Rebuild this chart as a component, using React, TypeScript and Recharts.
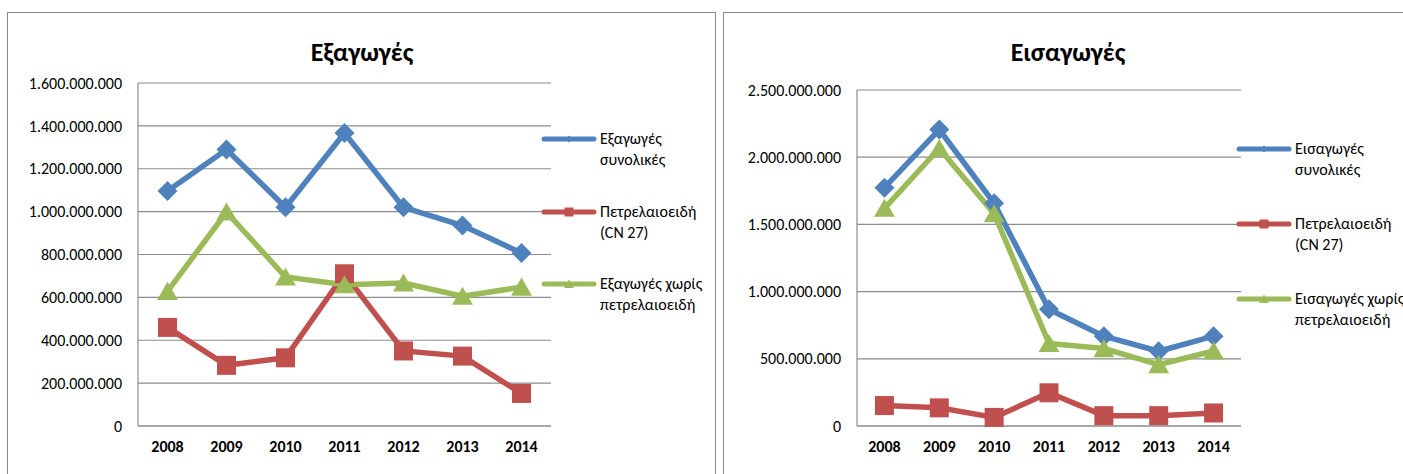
import { LineChart, Line, XAxis, YAxis, CartesianGrid } from 'recharts';

const years = ['2008', '2009', '2010', '2011', '2012', '2013', '2014'];

// Εξαγωγές
const exportsTotal = [1096000000, 1290000000, 1020000000, 1367000000, 1020000000, 935000000, 807000000];
const exportsOil = [460000000, 283000000, 318000000, 710000000, 350000000, 326000000, 152000000];
const exportsNonOil = [628000000, 998000000, 695000000, 659000000, 667000000, 605000000, 648000000];
const exportTicks = [0, 200000000, 400000000, 600000000, 800000000, 1000000000, 1200000000, 1400000000, 1600000000];
const exportLabels = [['Εξαγωγές', 'συνολικές'], ['Πετρελαιοειδή', '(CN 27)'], ['Εξαγωγές χωρίς', 'πετρελαιοειδή']];

// Εισαγωγές
const importsTotal = [1773000000, 2206000000, 1657000000, 868000000, 668000000, 556000000, 668000000];
const importsOil = [152000000, 135000000, 64000000, 247000000, 77000000, 77000000, 97000000];
const importsNonOil = [1620000000, 2065000000, 1580000000, 614000000, 576000000, 457000000, 558000000];
const importTicks = [0, 500000000, 1000000000, 1500000000, 2000000000, 2500000000];
const importLabels = [['Εισαγωγές', 'συνολικές'], ['Πετρελαιοειδή', '(CN 27)'], ['Εισαγωγές χωρίς', 'πετρελαιοειδή']];

const BLUE = '#4F81BD';
const RED = '#C0504D';
const GREEN = '#9BBB59';
const GRID = '#8c8c8c';
const FONT = "Calibri, Carlito, 'Open Sans', sans-serif";

type Shape = 'diamond' | 'square' | 'triangle';
const shapes: Shape[] = ['diamond', 'square', 'triangle'];
const colors = [BLUE, RED, GREEN];

function fmtDots(v: number): string {
  return String(Math.round(v)).replace(/\B(?=(\d{3})+(?!\d))/g, '.');
}

function Marker({ shape, cx, cy, size, color }: { shape: Shape; cx: number; cy: number; size: number; color: string }) {
  const h = size / 2;
  if (shape === 'diamond') {
    return <polygon points={`${cx},${cy - h} ${cx + h},${cy} ${cx},${cy + h} ${cx - h},${cy}`} fill={color} />;
  }
  if (shape === 'square') {
    return <rect x={cx - h} y={cy - h} width={size} height={size} fill={color} />;
  }
  return <polygon points={`${cx},${cy - h} ${cx + h * 1.1},${cy + h * 0.9} ${cx - h * 1.1},${cy + h * 0.9}`} fill={color} />;
}

function dotFor(shape: Shape, color: string, size: number) {
  return (props: any) => {
    const { cx, cy, index } = props;
    if (cx == null || cy == null) return <g key={`${shape}-${index}`} />;
    return <Marker key={`${shape}-${index}`} shape={shape} cx={cx} cy={cy} size={size} color={color} />;
  };
}

interface PanelProps {
  title: string;
  total: number[];
  oil: number[];
  nonOil: number[];
  ticks: number[];
  labels: string[][];
  frameLeft: number;
  frameWidth: number;
  plotLeft: number;
  plotRight: number;
  plotTop: number;
  titleX: number;
  legendX: number;
  legendYs: number[];
}

function Panel(p: PanelProps) {
  const data = years.map((year, i) => ({ year, total: p.total[i], oil: p.oil[i], nonOil: p.nonOil[i] }));
  const chartLeft = p.frameLeft;
  const chartWidth = 1403 - chartLeft;
  const yAxisWidth = 120;
  const xAxisHeight = 30;
  const band = (p.plotRight - p.plotLeft) / years.length;
  return (
    <>
      <div
        style={{
          position: 'absolute', left: p.frameLeft, top: 12, width: p.frameWidth, height: 480,
          border: '1.5px solid #8a8a8a', boxSizing: 'border-box',
        }}
      />
      <div
        style={{
          position: 'absolute', left: p.titleX - 150, top: 34, width: 300, textAlign: 'center',
          fontFamily: FONT, fontWeight: 700, fontSize: 26, lineHeight: '36px', color: '#000',
        }}
      >
        {p.title}
      </div>
      <div style={{ position: 'absolute', left: chartLeft, top: 0 }}>
        <LineChart
          width={chartWidth}
          height={474}
          data={data}
          margin={{
            top: p.plotTop,
            left: p.plotLeft - chartLeft - yAxisWidth,
            right: 1403 - p.plotRight,
            bottom: 474 - 426 - xAxisHeight,
          }}
        >
          <CartesianGrid vertical={false} stroke={GRID} strokeWidth={1.2} />
          <XAxis
            dataKey="year"
            height={xAxisHeight}
            padding={{ left: band / 2, right: band / 2 }}
            axisLine={{ stroke: GRID, strokeWidth: 1.2 }}
            tickLine={false}
            tickSize={6}
            tickMargin={9}
            tick={{ fill: '#000', fontSize: 16, fontWeight: 700, fontFamily: FONT }}
          />
          <YAxis
            width={yAxisWidth}
            domain={[0, p.ticks[p.ticks.length - 1]]}
            ticks={p.ticks}
            interval={0}
            tickFormatter={fmtDots}
            axisLine={{ stroke: GRID, strokeWidth: 1.2 }}
            tickLine={false}
            tickSize={6}
            tickMargin={10}
            tick={{ fill: '#000', fontSize: 16, fontFamily: FONT }}
          />
          <Line dataKey="total" stroke={BLUE} strokeWidth={5.5} dot={dotFor('diamond', BLUE, 20)} activeDot={false} isAnimationActive={false} />
          <Line dataKey="oil" stroke={RED} strokeWidth={5.5} dot={dotFor('square', RED, 19)} activeDot={false} isAnimationActive={false} />
          <Line dataKey="nonOil" stroke={GREEN} strokeWidth={5.5} dot={dotFor('triangle', GREEN, 19)} activeDot={false} isAnimationActive={false} />
        </LineChart>
      </div>
      {p.labels.map((lines, i) => (
        <div key={lines[0]}>
          <svg
            style={{ position: 'absolute', left: p.legendX, top: p.legendYs[i] - 6 }}
            width={56}
            height={12}
          >
            <line x1={3} y1={6} x2={53} y2={6} stroke={colors[i]} strokeWidth={5} strokeLinecap="round" />
            <Marker shape={shapes[i]} cx={28} cy={6} size={i === 0 ? 7 : 9} color={colors[i]} />
          </svg>
          <div
            style={{
              position: 'absolute', left: p.legendX + 59, top: p.legendYs[i] - 11, whiteSpace: 'nowrap',
              fontFamily: FONT, fontSize: 16, lineHeight: '21px', color: '#000',
            }}
          >
            {lines[0]}
            <br />
            {lines[1]}
          </div>
        </div>
      ))}
    </>
  );
}

export default function App() {
  return (
    <div style={{ position: 'absolute', left: 0, top: 0, width: 1403, height: 474, overflow: 'hidden', background: '#fff' }}>
      <Panel
        title="Εξαγωγές"
        total={exportsTotal}
        oil={exportsOil}
        nonOil={exportsNonOil}
        ticks={exportTicks}
        labels={exportLabels}
        frameLeft={7}
        frameWidth={709}
        plotLeft={138}
        plotRight={551}
        plotTop={83}
        titleX={362}
        legendX={541}
        legendYs={[139, 212, 284]}
      />
      <Panel
        title="Εισαγωγές"
        total={importsTotal}
        oil={importsOil}
        nonOil={importsNonOil}
        ticks={importTicks}
        labels={importLabels}
        frameLeft={723}
        frameWidth={700}
        plotLeft={857}
        plotRight={1241}
        plotTop={90}
        titleX={1068}
        legendX={1236}
        legendYs={[149, 224, 299]}
      />
    </div>
  );
}
